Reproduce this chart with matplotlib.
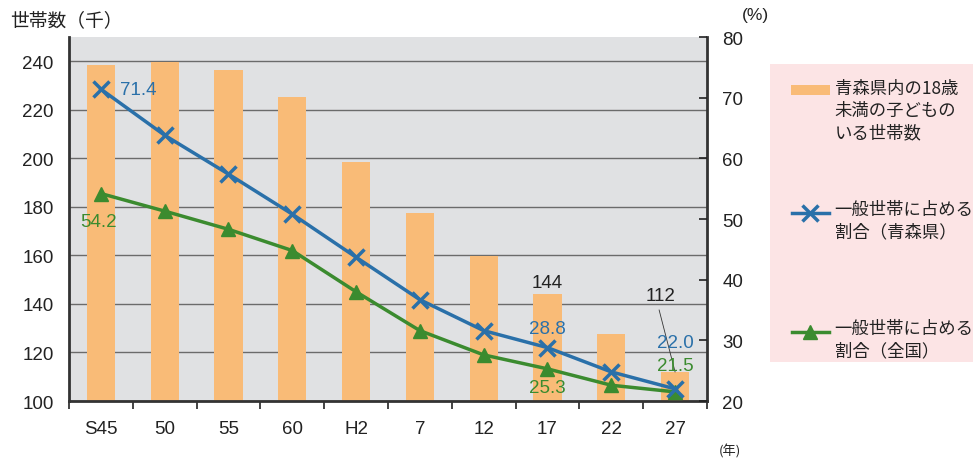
import matplotlib.pyplot as plt
from matplotlib.lines import Line2D
from matplotlib.patches import Rectangle

plt.rcParams['font.family'] = ['Liberation Sans', 'Noto Sans CJK JP', 'DejaVu Sans']

years = ['S45', '50', '55', '60', 'H2', '7', '12', '17', '22', '27']
households = [238.6, 239.8, 236.5, 225.4, 198.6, 177.5, 159.8, 144, 127.6, 112]
share_aomori = [71.4, 63.8, 57.4, 50.8, 43.7, 36.7, 31.6, 28.8, 24.8, 22.0]
share_japan = [54.2, 51.3, 48.3, 44.8, 38.0, 31.6, 27.6, 25.3, 22.6, 21.5]

bar_color = '#f9bb77'
blue = '#2a70a9'
green = '#3b8b2f'
ink = '#222222'
jp = ['Noto Sans CJK JP', 'DejaVu Sans']

fig = plt.figure(figsize=(9.73, 4.64), dpi=100)
ax = fig.add_axes([0.0709, 0.1336, 0.6557, 0.7845])
ax.set_facecolor('#e0e1e3')
x = list(range(len(years)))

ax.bar(x, households, width=0.44, color=bar_color, zorder=2)
ax.set_xlim(-0.5, len(years) - 0.5)
ax.set_ylim(100, 250)
ax.set_yticks(range(100, 241, 20))
ax.grid(axis='y', color='#6b6b6b', linewidth=1.0, zorder=1)
ax.set_axisbelow(True)
ax.tick_params(axis='y', length=0, labelsize=13.5, pad=11, colors=ink)
ax.set_xticks(x)
ax.set_xticklabels(years)
ax.set_xticks([i + 0.5 for i in range(-1, len(years))], minor=True)
ax.tick_params(axis='x', which='major', length=0, labelsize=13.5, pad=14, colors=ink)
ax.tick_params(axis='x', which='minor', length=6, width=1.2, color=ink)
for side in ['left', 'bottom', 'right']:
    ax.spines[side].set_linewidth(2)
    ax.spines[side].set_color('#333333')
ax.spines['top'].set_visible(False)

ax2 = ax.twinx()
ax2.set_ylim(20, 80)
ax2.set_yticks(range(20, 81, 10))
ax2.tick_params(axis='y', direction='in', length=6, width=1.2, labelsize=13.5,
                pad=11, colors=ink)
for side in ['left', 'bottom', 'right', 'top']:
    ax2.spines[side].set_visible(False)
ax2.plot(x, share_japan, color=green, linewidth=2.5, marker='^', markersize=10,
         zorder=3)
ax2.plot(x, share_aomori, color=blue, linewidth=2.5, marker='x', markersize=12,
         markeredgewidth=2.5, zorder=4)

# value labels
fs = 13.5
ax2.text(0.3, share_aomori[0], f'{share_aomori[0]:.1f}', color=blue, fontsize=fs,
         va='center', ha='left')
ax2.text(-0.03, share_japan[0] - 4.6, f'{share_japan[0]:.1f}', color=green, fontsize=fs,
         va='center', ha='center')
ax.text(7, households[7] + 1.5, f'{households[7]:.0f}', color=ink, fontsize=fs,
        ha='center', va='bottom')
ax2.text(7, share_aomori[7] + 3.1, f'{share_aomori[7]:.1f}', color=blue, fontsize=fs,
         ha='center', va='center')
ax2.text(7, share_japan[7] - 3.1, f'{share_japan[7]:.1f}', color=green, fontsize=fs,
         ha='center', va='center')
ax.text(8.78, 143.3, f'{households[9]:.0f}', color=ink, fontsize=fs,
        ha='center', va='center')
ax2.text(9, share_aomori[9] + 7.7, f'{share_aomori[9]:.1f}', color=blue, fontsize=fs,
         ha='center', va='center')
ax2.text(9, share_japan[9] + 4.4, f'{share_japan[9]:.1f}', color=green, fontsize=fs,
         ha='center', va='center')
ax.plot([8.75, 9.0], [137.5, 112], color='#333333', linewidth=0.6, zorder=5)

fig.text(0.010, 0.955, '世帯数（千）', fontsize=13.5, color=ink, va='center',
         family=jp)
fig.text(0.776, 0.966, '(%)', fontsize=12.5, color=ink, va='center', ha='center')
fig.text(0.750, 0.028, '(年)', fontsize=9.5, color=ink, va='center', ha='center',
         family=jp)

# legend panel
lg = fig.add_axes([0.791, 0.217, 0.209, 0.643])
lg.set_xlim(0, 1)
lg.set_ylim(0, 1)
lg.axis('off')
lg.add_patch(Rectangle((0, 0), 1, 1, facecolor='#fce4e5', edgecolor='none'))
lg.add_patch(Rectangle((0.105, 0.895), 0.19, 0.035, facecolor=bar_color))
lg.add_line(Line2D([0.11, 0.2, 0.29], [0.5, 0.5, 0.5], color=blue, linewidth=2.5,
                   marker='x', markersize=12, markeredgewidth=2.5, markevery=[1]))
lg.add_line(Line2D([0.11, 0.2, 0.29], [0.1, 0.1, 0.1], color=green, linewidth=2.5,
                   marker='^', markersize=10, markevery=[1]))
legend_labels = ['青森県内の18歳\n未満の子どもの\nいる世帯数',
                 '一般世帯に占める\n割合（青森県）',
                 '一般世帯に占める\n割合（全国）']
for yy, lab in zip([0.95, 0.545, 0.145], legend_labels):
    lg.text(0.32, yy, lab, fontsize=12.5, color=ink, va='top', ha='left',
            linespacing=1.3, family=jp)

fig.savefig('out.png', dpi=100)
